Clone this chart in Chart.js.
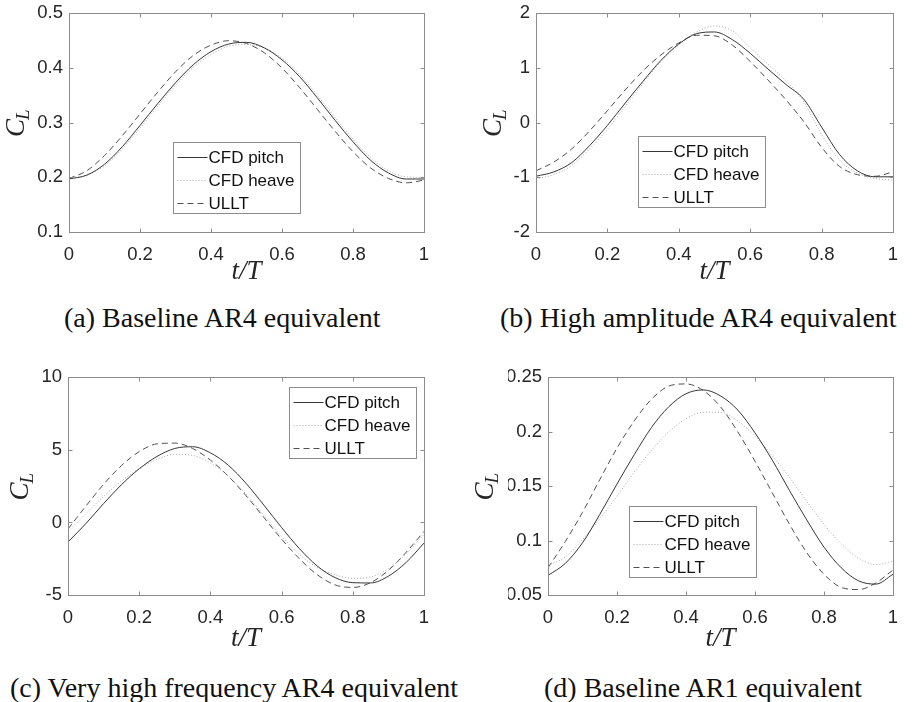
<!DOCTYPE html>
<html>
<head>
<meta charset="utf-8">
<title>C_L against t/T</title>
<script src="https://cdn.jsdelivr.net/npm/chart.js@4.4.1/dist/chart.umd.min.js"></script>
<style>
  body { margin: 0; background: #fff; }
  #page { position: relative; width: 917px; height: 702px; overflow: hidden; background: #fff; }
  canvas { position: absolute; }
  .caption { position: absolute; font-family: "Liberation Serif", "Times New Roman", serif; font-size: 28px; line-height: 28px; color: #111; white-space: nowrap; }
</style>
</head>
<body>
<div id="page">
  <canvas id="chartA" width="458" height="300"></canvas>
  <canvas id="chartB" width="459" height="300"></canvas>
  <canvas id="chartC" width="458" height="300"></canvas>
  <canvas id="chartD" width="459" height="300"></canvas>
  <div class="caption" id="capA"></div>
  <div class="caption" id="capB"></div>
  <div class="caption" id="capC"></div>
  <div class="caption" id="capD"></div>
</div>
<script>
// time axis, read every 0.05 T
const tValues = [0, 0.05, 0.1, 0.15, 0.2, 0.25, 0.3, 0.35, 0.4, 0.45, 0.5, 0.55, 0.6, 0.65, 0.7, 0.75, 0.8, 0.85, 0.9, 0.95, 1];
const xTicks = [0, 0.2, 0.4, 0.6, 0.8, 1];
const seriesLabels = ['CFD pitch', 'CFD heave', 'ULLT'];

// (a) baseline AR4
const pitchA = [0.197, 0.204, 0.224, 0.256, 0.295, 0.335, 0.373, 0.406, 0.430, 0.444, 0.447, 0.437, 0.415, 0.384, 0.345, 0.304, 0.265, 0.231, 0.208, 0.197, 0.197];
const heaveA = [0.199, 0.204, 0.221, 0.252, 0.290, 0.330, 0.368, 0.401, 0.425, 0.440, 0.443, 0.437, 0.418, 0.388, 0.350, 0.309, 0.270, 0.236, 0.212, 0.201, 0.200];
const ulltA  = [0.198, 0.212, 0.240, 0.276, 0.316, 0.356, 0.393, 0.423, 0.442, 0.450, 0.445, 0.428, 0.400, 0.364, 0.324, 0.284, 0.247, 0.217, 0.198, 0.190, 0.195];
const yTicksA = [0.1, 0.2, 0.3, 0.4, 0.5];

// (b) high amplitude AR4
const pitchB = [-0.98, -0.90, -0.73, -0.42, -0.05, 0.36, 0.76, 1.14, 1.44, 1.63, 1.66, 1.52, 1.27, 0.98, 0.70, 0.43, -0.08, -0.58, -0.88, -0.99, -0.99];
const heaveB = [-1.03, -0.95, -0.78, -0.48, -0.12, 0.30, 0.72, 1.12, 1.42, 1.66, 1.77, 1.68, 1.37, 1.07, 0.77, 0.38, -0.22, -0.68, -0.92, -1.02, -1.05];
const ulltB  = [-0.88, -0.72, -0.48, -0.15, 0.22, 0.60, 0.95, 1.24, 1.46, 1.60, 1.59, 1.42, 1.12, 0.78, 0.42, 0.02, -0.45, -0.80, -0.95, -0.98, -0.90];
const yTicksB = [-2, -1, 0, 1, 2];

// (c) very high frequency AR4
const pitchC = [-1.35, -0.08, 1.30, 2.60, 3.70, 4.55, 5.10, 5.22, 4.80, 3.95, 2.70, 1.20, -0.35, -1.80, -3.00, -3.80, -4.15, -4.17, -3.70, -2.75, -1.42];
const heaveC = [-0.62, 0.60, 1.80, 2.85, 3.70, 4.35, 4.70, 4.62, 4.10, 3.20, 1.95, 0.50, -0.95, -2.20, -3.10, -3.60, -3.85, -3.75, -3.20, -2.15, -0.82];
const ulltC  = [-0.45, 1.12, 2.63, 3.92, 4.88, 5.42, 5.47, 5.10, 4.30, 3.20, 1.85, 0.35, -1.15, -2.50, -3.60, -4.30, -4.48, -4.15, -3.30, -2.05, -0.62];
const yTicksC = [-5, 0, 5, 10];

// (d) baseline AR1
const pitchD = [0.068, 0.079, 0.098, 0.124, 0.152, 0.179, 0.204, 0.223, 0.235, 0.2385, 0.233, 0.220, 0.199, 0.174, 0.146, 0.119, 0.094, 0.075, 0.063, 0.060, 0.069];
const heaveD = [0.077, 0.085, 0.101, 0.120, 0.141, 0.163, 0.183, 0.200, 0.212, 0.218, 0.218, 0.210, 0.196, 0.178, 0.158, 0.136, 0.115, 0.097, 0.084, 0.078, 0.081];
const ulltD  = [0.075, 0.099, 0.126, 0.156, 0.185, 0.210, 0.230, 0.242, 0.244, 0.238, 0.223, 0.200, 0.173, 0.144, 0.115, 0.089, 0.069, 0.057, 0.055, 0.061, 0.073];
const yTicksD = [0.05, 0.1, 0.15, 0.2, 0.25];

const captions = ['(a) Baseline AR4 equivalent', '(b) High amplitude AR4 equivalent',
                  '(c) Very high frequency AR4 equivalent', '(d) Baseline AR1 equivalent'];

const lineStyles = [
  { color: '#363636', dash: [] },
  { color: '#a8a8a8', dash: [1, 2] },
  { color: '#505050', dash: [6, 4] },
];

const tickFont = '18.5px "Liberation Sans", Arial, sans-serif';
const legendFont = '17px "Liberation Sans", Arial, sans-serif';
const axisGray = '#8c8c8c';

// box, inward ticks on all sides, legend inside the axes and the C_L label
const matlabAxes = {
  id: 'matlabAxes',
  afterDatasetsDraw(chart, args, opts) {
    const { ctx, chartArea: a, scales: { x, y } } = chart;
    const L = Math.round(a.left) + 0.5, R = Math.round(a.right) + 0.5;
    const T = Math.round(a.top) + 0.5, B = Math.round(a.bottom) + 0.5;
    ctx.save();
    ctx.strokeStyle = axisGray;
    ctx.lineWidth = 1;
    ctx.setLineDash([]);
    ctx.strokeRect(L, T, R - L, B - T);
    const len = 4;
    ctx.beginPath();
    x.ticks.forEach(t => {
      const px = Math.round(x.getPixelForValue(t.value)) + 0.5;
      ctx.moveTo(px, B); ctx.lineTo(px, B - len);
      ctx.moveTo(px, T); ctx.lineTo(px, T + len);
    });
    y.ticks.forEach(t => {
      const py = Math.round(y.getPixelForValue(t.value)) + 0.5;
      ctx.moveTo(L, py); ctx.lineTo(L + len, py);
      ctx.moveTo(R, py); ctx.lineTo(R - len, py);
    });
    ctx.stroke();

    // legend
    ctx.font = legendFont;
    const textW = Math.max(...chart.data.datasets.map(d => ctx.measureText(d.label).width));
    const bx = Math.round(a.left + opts.legendAt.x) + 0.5;
    const by = Math.round(a.top + opts.legendAt.y) + 0.5;
    const bw = Math.round(5 + 30 + textW + 6), bh = 71;
    ctx.fillStyle = '#fff';
    ctx.fillRect(bx, by, bw, bh);
    ctx.strokeStyle = axisGray;
    ctx.strokeRect(bx, by, bw, bh);
    ctx.textBaseline = 'middle';
    ctx.textAlign = 'left';
    chart.data.datasets.forEach((d, i) => {
      const ry = Math.round(by + 14 + i * 23) + 0.5;
      ctx.strokeStyle = d.borderColor;
      ctx.setLineDash(d.borderDash);
      ctx.beginPath();
      ctx.moveTo(bx + 4, ry); ctx.lineTo(bx + 34, ry);
      ctx.stroke();
      ctx.fillStyle = '#111';
      ctx.fillText(d.label, bx + 35, ry + 1);
    });
    ctx.setLineDash([]);

    // y label C_L, left of the widest tick label
    ctx.font = tickFont;
    const widest = Math.max(...y.ticks.map(t => ctx.measureText(String(t.value)).width));
    const cx = a.left - 6 - widest - 22;
    const cy = (a.top + a.bottom) / 2;
    ctx.translate(cx, cy);
    ctx.rotate(-Math.PI / 2);
    ctx.fillStyle = '#262626';
    ctx.textBaseline = 'alphabetic';
    ctx.font = 'italic 27px "Liberation Serif", serif';
    const wC = ctx.measureText('C').width;
    ctx.font = 'italic 19px "Liberation Serif", serif';
    const wL = ctx.measureText('L').width;
    const x0 = -(wC + wL) / 2;
    ctx.font = 'italic 27px "Liberation Serif", serif';
    ctx.fillText('C', x0, 9);
    ctx.font = 'italic 19px "Liberation Serif", serif';
    ctx.fillText('L', x0 + wC - 1, 14);
    ctx.restore();
  }
};

Chart.defaults.font.family = '"Liberation Sans", Arial, sans-serif';
Chart.defaults.font.size = 18.5;
Chart.defaults.color = '#262626';

function makeChart(id, box, plot, xH, series, yTicks, legendAt) {
  const yW = 40;
  const el = document.getElementById(id);
  el.style.left = box.left + 'px';
  el.style.top = box.top + 'px';

  return new Chart(el, {
    type: 'line',
    data: {
      datasets: series.map((vals, i) => ({
        label: seriesLabels[i],
        data: vals.map((v, k) => ({ x: tValues[k], y: v })),
        borderColor: lineStyles[i].color,
        borderDash: lineStyles[i].dash,
        borderWidth: 1,
        pointRadius: 0,
        fill: false,
        cubicInterpolationMode: 'monotone',
      })),
    },
    options: {
      responsive: false,
      animation: false,
      devicePixelRatio: 1,
      layout: {
        padding: {
          left: plot.l - box.left - yW,
          right: box.left + box.w - plot.r,
          top: plot.t - box.top,
          bottom: box.top + box.h - plot.b - xH,
        },
      },
      scales: {
        x: {
          type: 'linear', min: 0, max: 1,
          afterFit: s => { s.height = xH; },
          afterBuildTicks: s => { s.ticks = xTicks.map(v => ({ value: v })); },
          grid: { display: false, drawTicks: false },
          border: { display: false },
          ticks: { padding: 12, autoSkip: false, maxRotation: 0, callback: v => String(v) },
          title: {
            display: true, text: 't/T', padding: 0, color: '#262626',
            font: { family: '"Liberation Serif", serif', style: 'italic', size: 27 },
          },
        },
        y: {
          type: 'linear', min: yTicks[0], max: yTicks[yTicks.length - 1],
          afterFit: s => { s.width = yW; },
          afterBuildTicks: s => { s.ticks = yTicks.map(v => ({ value: v })); },
          grid: { display: false, drawTicks: false },
          border: { display: false },
          ticks: { padding: 6, autoSkip: false, font: { lineHeight: 0.8 }, callback: v => String(v) },
        },
      },
      plugins: {
        legend: { display: false },
        tooltip: { enabled: false },
        matlabAxes: { legendAt: legendAt },
      },
    },
    plugins: [matlabAxes],
  });
}

makeChart('chartA', { left: 0, top: 0, w: 458, h: 300 }, { l: 69, r: 424, t: 8, b: 232 }, 56,
  [pitchA, heaveA, ulltA], yTicksA, { x: 104, y: 129 });
makeChart('chartB', { left: 458, top: 0, w: 459, h: 300 }, { l: 536, r: 893, t: 8, b: 232 }, 56,
  [pitchB, heaveB, ulltB], yTicksB, { x: 102, y: 123 });
makeChart('chartC', { left: 0, top: 364, w: 458, h: 300 }, { l: 68, r: 424, t: 372, b: 595 }, 60,
  [pitchC, heaveC, ulltC], yTicksC, { x: 221, y: 10 });
makeChart('chartD', { left: 458, top: 364, w: 459, h: 300 }, { l: 548, r: 893, t: 372, b: 595 }, 60,
  [pitchD, heaveD, ulltD], yTicksD, { x: 81, y: 129 });

const capPos = [{ x: 64, y: 304 }, { x: 500, y: 304 }, { x: 10, y: 674 }, { x: 544, y: 674 }];
['capA', 'capB', 'capC', 'capD'].forEach((id, i) => {
  const el = document.getElementById(id);
  el.textContent = captions[i];
  el.style.left = capPos[i].x + 'px';
  el.style.top = capPos[i].y + 'px';
});
</script>
</body>
</html>
